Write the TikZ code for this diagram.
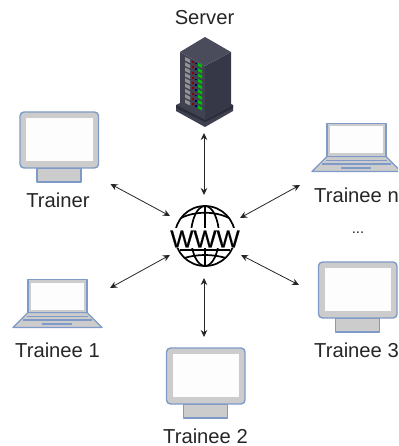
\documentclass[tikz,border=0pt]{standalone}
\usepackage{fontspec}
\setmainfont{Liberation Sans}
\newfontfamily\wwwfont[FakeBold=0.6]{Liberation Sans}
\usetikzlibrary{arrows.meta}
\definecolor{edgeblue}{HTML}{7E9AC8}
\definecolor{padgray}{HTML}{CCCCCC}
\definecolor{txt}{HTML}{262626}
\definecolor{srvtop}{HTML}{4A4C5C}
\definecolor{srvleft}{HTML}{404252}
\definecolor{srvright}{HTML}{363848}
\definecolor{srvbase}{HTML}{3E4050}
\tikzset{
  x=1pt,y=-1pt,
  lbl/.style={inner sep=0pt,font=\fontsize{20.2}{22}\selectfont,text=txt},
  link/.style={draw=txt,line width=0.8pt,{Stealth[length=7pt,width=6.5pt]}-{Stealth[length=7pt,width=6.5pt]}},
  dev/.style={draw=edgeblue,line width=1.4pt,fill=padgray,line join=round},
  devline/.style={draw=edgeblue,line width=1.1pt},
  glb/.style={draw=black,line width=1.7pt}
}
% monitor: outer box top-left at (#1,#2)
\newcommand{\monitorpic}[2]{%
  \begin{scope}[shift={(#1,#2)}]
    \path[dev] (17,56) rectangle (61,70);
    \path[dev,rounded corners=4pt] (0,0) rectangle (78.5,56);
    \fill[white!97!padgray] (6,6) rectangle (72.5,49);
  \end{scope}}
% laptop: screen top-left at (#1,#2)
\newcommand{\laptoppic}[2]{%
  \begin{scope}[shift={(#1,#2)}]
    \path[dev] (0,33) -- (59,33) -- (74,48) -- (-15,48) -- cycle;
    \path[dev,fill=padgray] (0,0) rectangle (59,33);
    \fill[white!97!padgray] (3,3) rectangle (56,30);
    \draw[devline] (-1,37) -- (60,37);
    \draw[devline] (-5,40.5) -- (64,40.5);
    \draw[devline] (14,44.5) -- (44,44.5);
  \end{scope}}
\begin{document}
\begin{tikzpicture}
\useasboundingbox (0,0) rectangle (398,446);
\clip (0,0) rectangle (398,446);
% server
\fill[srvbase] (176,105) -- (205,91) -- (233,105) -- (233,111) -- (205,127) -- (176,111) -- cycle;
\fill[srvright!80!black] (176,105) -- (205,120) -- (233,105) -- (233,108) -- (205,122) -- (176,108) -- cycle;
\fill[srvleft] (180,52) -- (205,66) -- (205,119) -- (180,105) -- cycle;
\fill[srvright] (205,66) -- (231,52) -- (231,105) -- (205,119) -- cycle;
\fill[srvtop] (205,37) -- (231,52) -- (205,66) -- (180,52) -- cycle;
\foreach \i in {0,...,8}{
  \pgfmathsetmacro{\yy}{57+5.3*\i}
  \fill[gray!85!white] (185,\yy) -- (190,\yy+2.5) -- (190,\yy+6) -- (185,\yy+3.5) -- cycle;
  \fill[red!55!black] (192,\yy+4) rectangle +(2,2);
  \fill[blue!45!black] (195,\yy+6) rectangle +(1.5,1.5);
  \fill[green!75!black] (198,\yy+6) -- (202,\yy+8) -- (202,\yy+11) -- (198,\yy+9) -- cycle;
}
% devices
\monitorpic{20}{112}
\monitorpic{318.5}{262}
\monitorpic{166.5}{348}
\laptoppic{327}{123.5}
\laptoppic{28}{279.5}
% globe
\begin{scope}
  \draw[glb] (205,236) circle (30);
  \draw[glb] (205,206) -- (205,266);
  \draw[glb] (205,236) ellipse (14 and 30);
  \draw[glb] (181,218) .. controls (195,211) and (215,211) .. (229,218);
  \draw[glb] (180,250) -- (230,250);
  \draw[glb] (184,258) .. controls (198,254) and (212,254) .. (226,258);
  \fill[white] (168,228) rectangle (242,248);
\end{scope}
\node[inner sep=0pt,anchor=center,font=\wwwfont\fontsize{24.5}{25}\selectfont,text=black] (www) at (205,239) {WWW};
% labels
\node[lbl,anchor=base] (server) at (204.5,25) {Server};
\node[lbl,anchor=base] (trainer) at (58,207) {Trainer};
\node[lbl,anchor=base west] (traineen) at (314,202) {Trainee n};
\node[lbl,anchor=base west] (trainee1) at (15,357) {Trainee 1};
\node[lbl,anchor=base west] (trainee2) at (163,443) {Trainee 2};
\node[lbl,anchor=base west] (trainee3) at (314,357) {Trainee 3};
\node[inner sep=0pt,anchor=base,font=\fontsize{15}{15}\selectfont,text=txt] (dots) at (358,233) {...};
% connector ends
\coordinate (gT) at (204,195);
\coordinate (gB) at (204,278);
\coordinate (gTL) at (170,216);
\coordinate (gTR) at (240,218);
\coordinate (gBL) at (170,255);
\coordinate (gBR) at (241,255);
\coordinate (dS) at (204,133);
\coordinate (dTr) at (110.5,184);
\coordinate (dN) at (300,185);
\coordinate (d1) at (110,288);
\coordinate (d2) at (204,337);
\coordinate (d3) at (299,285);
\draw[link] (dS) -- (gT);
\draw[link] (dTr) -- (gTL);
\draw[link] (dN) -- (gTR);
\draw[link] (d1) -- (gBL);
\draw[link] (d2) -- (gB);
\draw[link] (d3) -- (gBR);
\end{tikzpicture}
\end{document}
